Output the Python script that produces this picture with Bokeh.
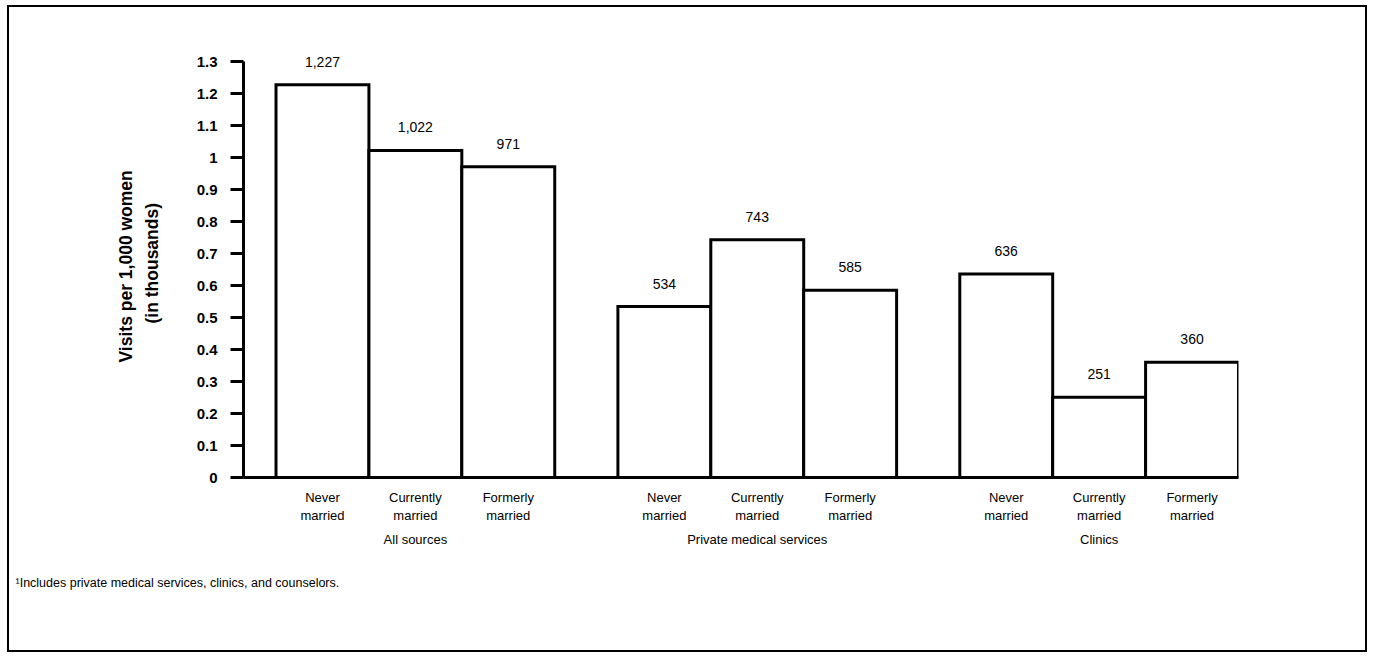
from bokeh.plotting import figure
from bokeh.models import Range1d, FixedTicker, LinearAxis, LabelSet, Title, ColumnDataSource
from bokeh.embed import file_html
from bokeh.resources import INLINE
from bokeh.core.properties import value

# ---- data ----
groups = ["All sources", "Private medical services", "Clinics"]
statuses = ["Never\nmarried", "Currently\nmarried", "Formerly\nmarried"]
all_sources = [1227, 1022, 971]
private_medical = [534, 743, 585]
clinics = [636, 251, 360]
y_ticks = [0, 0.1, 0.2, 0.3, 0.4, 0.5, 0.6, 0.7, 0.8, 0.9, 1, 1.1, 1.2, 1.3]
y_tick_labels = ["0", "0.1", "0.2", "0.3", "0.4", "0.5", "0.6", "0.7",
                 "0.8", "0.9", "1", "1.1", "1.2", "1.3"]
y_label_lines = ["Visits per 1,000 women", "(in thousands)"]
footnote = "\u00b9Includes private medical services, clinics, and counselors."

FONT = "Liberation Sans"
GAP = 0.68  # gap between groups, in bar widths

series = [all_sources, private_medical, clinics]
xs, tops, texts, cat_labels = [], [], [], []
group_centers = []
for g, vals in enumerate(series):
    base = g * (len(statuses) + GAP)
    group_centers.append(base + len(statuses) / 2)
    for i, v in enumerate(vals):
        xs.append(base + i + 0.5)
        tops.append(v / 1000)
        texts.append(f"{v:,}")
        cat_labels.append(statuses[i])
src = ColumnDataSource(dict(x=xs, top=tops, text=texts))

p = figure(frame_width=995, frame_height=444,
           x_range=Range1d(-0.35, len(groups) * len(statuses) + (len(groups) - 1) * GAP),
           y_range=Range1d(0, 1.3875),
           output_backend="svg", toolbar_location=None,
           min_border_left=234, min_border_right=127,
           min_border_top=26, min_border_bottom=173)
p.grid.visible = False
p.outline_line_color = None
p.background_fill_color = "white"
p.border_fill_color = "white"
p.styles = {"border": "2px solid black", "margin-left": "7px", "margin-top": "5px"}

p.vbar(x="x", top="top", bottom=0, width=1, source=src,
       fill_color="white", line_color="black", line_width=3, line_join="miter")
p.add_layout(LabelSet(x="x", y="top", text="text", source=src, text_align="center",
                      text_baseline="middle", y_offset=23, text_font=value(FONT),
                      text_font_size="14px", text_color="black"))

# y axis
ya = p.yaxis[0]
ya.bounds = (0, 1.3)
ya.ticker = FixedTicker(ticks=y_ticks)
ya.major_label_overrides = dict(zip(y_ticks, y_tick_labels))
ya.minor_tick_line_color = None
ya.major_tick_in = 0
ya.major_tick_out = 13
ya.major_tick_line_width = 3
ya.axis_line_width = 3
ya.axis_line_color = "black"
ya.major_tick_line_color = "black"
ya.major_label_text_font = FONT
ya.major_label_text_font_style = "bold"
ya.major_label_text_font_size = "15px"
ya.major_label_text_color = "black"
ya.major_label_standoff = 13

# y axis title (two lines, centred on the 0-1.3 span); blank title = spacing
p.add_layout(Title(text=" ", standoff=27, text_font_size="1px"), "left")
p.add_layout(Title(text=y_label_lines[1], align="left", offset=154, standoff=4,
                   text_font=FONT, text_font_size="17.5px", text_font_style="bold",
                   text_color="black"), "left")
p.add_layout(Title(text=y_label_lines[0], align="left", offset=115, standoff=4,
                   text_font=FONT, text_font_size="17.5px", text_font_style="bold",
                   text_color="black"), "left")

# x axis (category labels)
xa = p.xaxis[0]
xa.ticker = FixedTicker(ticks=xs)
xa.major_label_overrides = dict(zip(xs, cat_labels))
xa.minor_tick_line_color = None
xa.major_tick_line_color = None
xa.axis_line_width = 3
xa.axis_line_color = "black"
xa.major_label_text_font = FONT
xa.major_label_text_font_size = "13px"
xa.major_label_text_color = "black"
xa.major_label_standoff = 6

# group axis
ga = LinearAxis(ticker=FixedTicker(ticks=group_centers),
                major_label_overrides=dict(zip(group_centers, groups)))
ga.axis_line_color = None
ga.major_tick_line_color = None
ga.minor_tick_line_color = None
ga.major_label_text_font = FONT
ga.major_label_text_font_size = "13px"
ga.major_label_text_color = "black"
ga.major_label_standoff = 0
p.add_layout(ga, "below")

# footnote
p.add_layout(Title(text=footnote, align="left", offset=-228, standoff=48,
                   text_font=FONT, text_font_size="12.5px",
                   text_font_style="normal", text_color="black"), "below")

open("out.html", "w").write(file_html(p, INLINE))
